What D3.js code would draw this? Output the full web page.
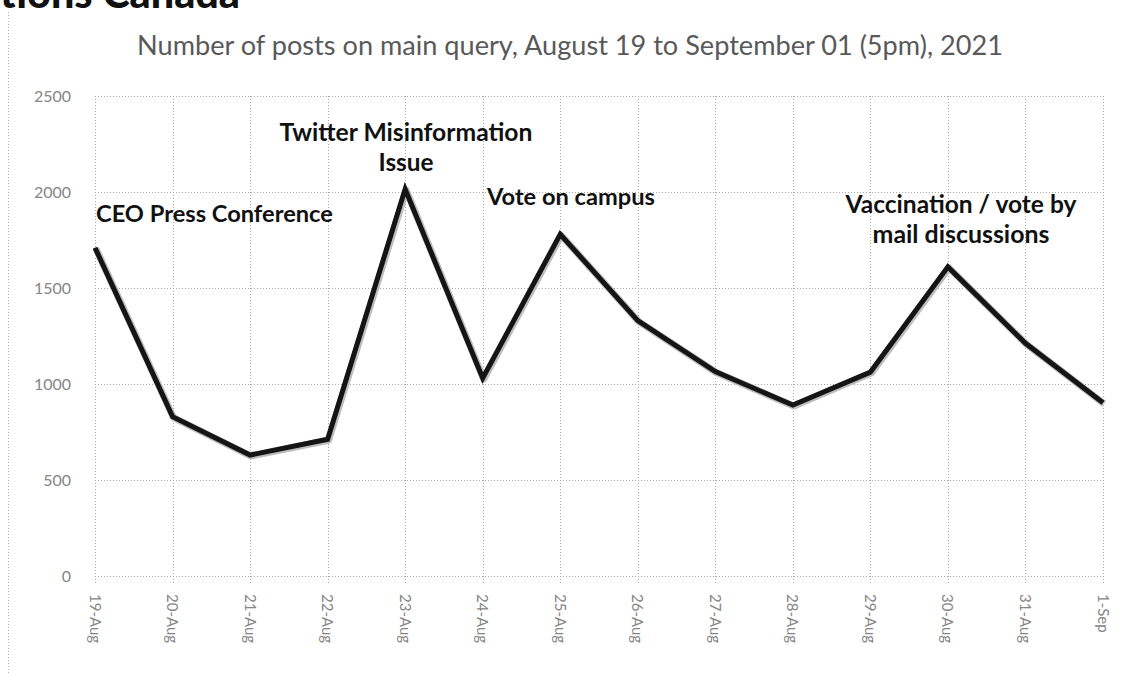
<!DOCTYPE html>
<html>
<head>
<meta charset="utf-8">
<script src="https://cdn.jsdelivr.net/npm/d3@7"></script>
<style>
  html, body { margin: 0; padding: 0; background: #fff; }
  svg { display: block; }
  text { font-family: Lato, "Open Sans", sans-serif; }
</style>
</head>
<body>
<svg id="chart" width="1121" height="673"></svg>
<script>
// ---- data ----
const categories = ["19-Aug","20-Aug","21-Aug","22-Aug","23-Aug","24-Aug","25-Aug","26-Aug","27-Aug","28-Aug","29-Aug","30-Aug","31-Aug","1-Sep"];
const posts = [1710, 830, 630, 712, 2015, 1030, 1780, 1330, 1065, 890, 1062, 1610, 1212, 902];
const yTicks = [0, 500, 1000, 1500, 2000, 2500];
const titleText = "Number of posts on main query, August 19 to September 01 (5pm), 2021";
const headerText = "Elections Canada";
const headerVisible = "tions Canada";
const annotations = [
  { lines: ["CEO Press Conference"], cat: "19-Aug", anchor: "start" },
  { lines: ["Twitter Misinformation", "Issue"], cat: "23-Aug", anchor: "middle" },
  { lines: ["Vote on campus"], cat: "24-Aug", anchor: "start" },
  { lines: ["Vaccination / vote by", "mail discussions"], cat: "30-Aug", anchor: "middle" }
];

// ---- layout ----
const svg = d3.select("#chart");
const plotL = 95, plotR = 1103, plotT = 96, plotB = 576;

const x = d3.scalePoint().domain(categories).range([plotL, plotR]);
const y = d3.scaleLinear().domain([0, 2500]).range([plotB, plotT]);

function fitWidth(sel, target) {
  const fs = parseFloat(sel.attr("font-size"));
  const w = sel.node().getComputedTextLength();
  if (w > 0) sel.attr("font-size", (fs * target / w).toFixed(2));
}

// header (cut off at the top-left edge, as in the source)
const hdr = svg.append("text")
  .attr("x", 240).attr("y", 8)
  .attr("text-anchor", "end")
  .attr("font-size", 30).attr("font-weight", 900)
  .attr("fill", "#111")
  .text(headerVisible);
fitWidth(hdr, 240);
hdr.text(headerText);

// chart-area left border
svg.append("line")
  .attr("x1", 8.5).attr("x2", 8.5).attr("y1", 12).attr("y2", 673)
  .attr("stroke", "#b0b0b0").attr("stroke-dasharray", "1,2");

// title
const title = svg.append("text")
  .attr("x", 570).attr("y", 55)
  .attr("text-anchor", "middle")
  .attr("font-size", 18)
  .attr("fill", "#595959")
  .text(titleText);
fitWidth(title, 866);

// horizontal gridlines
svg.append("g")
  .selectAll("line")
  .data(yTicks)
  .join("line")
  .attr("x1", plotL).attr("x2", plotR)
  .attr("y1", d => Math.round(y(d)) + 0.5).attr("y2", d => Math.round(y(d)) + 0.5)
  .attr("stroke", "#a8a8a8").attr("stroke-dasharray", "1,2");

// vertical gridlines (extend as tick marks below axis)
svg.append("g")
  .selectAll("line")
  .data(categories)
  .join("line")
  .attr("x1", d => Math.round(x(d)) + 0.5).attr("x2", d => Math.round(x(d)) + 0.5)
  .attr("y1", plotT).attr("y2", plotB + 7)
  .attr("stroke", "#a8a8a8").attr("stroke-dasharray", "1,2");

// y axis labels
const yAxis = d3.axisLeft(y).tickValues(yTicks).tickFormat(d3.format("d")).tickSize(0).tickPadding(0);
const gy = svg.append("g").attr("transform", `translate(71,0)`).call(yAxis);
gy.select(".domain").remove();
gy.selectAll("text")
  .attr("font-family", "Lato, 'Open Sans', sans-serif")
  .attr("font-size", 16).attr("fill", "#858585");

// x axis labels (rotated)
const xAxis = d3.axisBottom(x).tickSize(0).tickPadding(0);
const gx = svg.append("g").attr("transform", `translate(0,${plotB})`).call(xAxis);
gx.select(".domain").remove();
gx.selectAll("text")
  .attr("font-family", "Lato, 'Open Sans', sans-serif")
  .attr("font-size", 15).attr("fill", "#858585")
  .attr("text-anchor", "start")
  .attr("dy", null).attr("y", 0)
  .attr("transform", "translate(-6,18) rotate(90)");

// line shadow + line
const lineGen = d3.line().x((d, i) => x(categories[i])).y(d => y(d));
svg.append("path")
  .datum(posts)
  .attr("d", lineGen)
  .attr("fill", "none").attr("stroke", "#bdbdbd")
  .attr("stroke-width", 7).attr("stroke-linejoin", "round")
  .attr("transform", "translate(1,1)");
svg.append("path")
  .datum(posts)
  .attr("d", lineGen)
  .attr("fill", "none").attr("stroke", "#151515")
  .attr("stroke-width", 5).attr("stroke-linejoin", "miter");

// annotations
const annPos = [
  { x: 96, y: 222, w: [237] },
  { x: 406, y: 141, w: [253, 55] },
  { x: 487, y: 205, w: [168] },
  { x: 961, y: 213, w: [231, 177] }
];
annotations.forEach((a, i) => {
  const p = annPos[i];
  a.lines.forEach((ln, j) => {
    const t = svg.append("text")
      .attr("x", p.x).attr("y", p.y + j * 30)
      .attr("text-anchor", a.anchor)
      .attr("font-size", 17).attr("font-weight", 700)
      .attr("fill", "#111")
      .text(ln);
    fitWidth(t, p.w[j]);
  });
});
</script>
</body>
</html>
